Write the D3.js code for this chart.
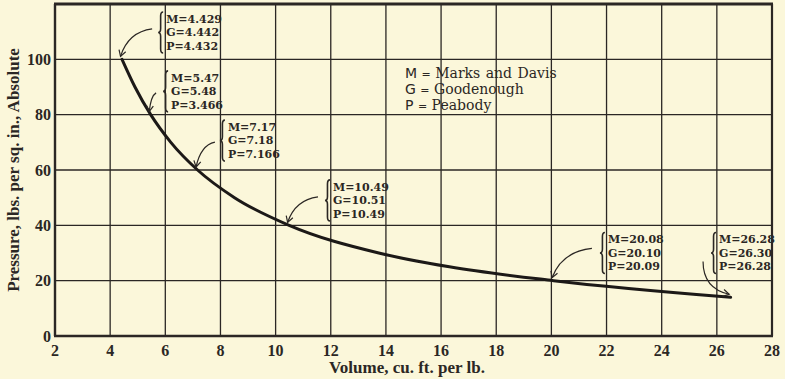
<!DOCTYPE html>
<html>
<head>
<meta charset="utf-8">
<script src="https://cdn.jsdelivr.net/npm/d3@7/dist/d3.min.js"></script>
<style>
  html, body { margin: 0; padding: 0; background: #fbf7da; }
  svg { display: block; }
  .tick-label { font: bold 16px "Liberation Serif", serif; fill: #2b2724; }
  .axis-title { font: bold 17px "Liberation Serif", serif; fill: #2b2724; }
  .note { font: bold 11px "DejaVu Serif", serif; fill: #2b2724; }
  .legend { font: 14px "DejaVu Serif", serif; fill: #2b2724; word-spacing: 1px; }
</style>
</head>
<body>
<div id="chart"></div>
<script>
// saturated steam, specific volume against absolute pressure
const volume = [4.43, 4.90, 5.47, 6.20, 7.17, 8.51, 10.49, 13.74, 16.30, 20.08, 26.5];
const pressure = [100, 90, 80, 70, 60, 50, 40, 30, 25, 20, 14];

const xTicks = [2, 4, 6, 8, 10, 12, 14, 16, 18, 20, 22, 24, 26, 28];
const yTicks = [0, 20, 40, 60, 80, 100];

// table values written beside the curve
const markedPoint = [0, 2, 4, 6, 9, 10];
const marksDavis = ['4.429', '5.47', '7.17', '10.49', '20.08', '26.28'];
const goodenough = ['4.442', '5.48', '7.18', '10.51', '20.10', '26.30'];
const peabody = ['4.432', '3.466', '7.166', '10.49', '20.09', '26.28'];

const legendKeys = ['M', 'G', 'P'];
const legendNames = ['Marks and Davis', 'Goodenough', 'Peabody'];

// where the little value boxes sit (data units) and how their arrows leave them
const notePos = [
  { x: 6.03, y: 114.6, dx: -14, dy: 10, bend: 'h' },
  { x: 6.21, y: 93.3, dx: -15, dy: 15, bend: 'h' },
  { x: 8.27, y: 75.5, dx: -13, dy: 15, bend: 'h' },
  { x: 12.08, y: 53.9, dx: -15, dy: 10, bend: 'h' },
  { x: 22.05, y: 34.9, dx: -16, dy: 9, bend: 'h' },
  { x: 26.08, y: 34.9, dx: -16, dy: 22, bend: 'v' }
];

const W = 785, H = 379;
const margin = { top: 4, right: 13, bottom: 43, left: 55 };
const ink = '#2b2724';

const svg = d3.select('#chart').append('svg')
  .attr('width', W)
  .attr('height', H);

svg.append('rect').attr('width', W).attr('height', H).attr('fill', '#fbf7da');

const x = d3.scaleLinear().domain([2, 28]).range([margin.left, W - margin.right]);
const y = d3.scaleLinear().domain([0, 120]).range([H - margin.bottom, margin.top]);

// grid
svg.append('g')
  .selectAll('line')
  .data(xTicks.slice(1, -1))
  .join('line')
    .attr('x1', d => x(d)).attr('x2', d => x(d))
    .attr('y1', y(0)).attr('y2', y(120))
    .attr('stroke', ink).attr('stroke-width', 1.3);

svg.append('g')
  .selectAll('line')
  .data(yTicks.slice(1))
  .join('line')
    .attr('x1', x(2)).attr('x2', x(28))
    .attr('y1', d => y(d)).attr('y2', d => y(d))
    .attr('stroke', ink).attr('stroke-width', 1.3);

// frame
svg.append('line').attr('x1', x(2) - 1).attr('x2', x(28) + 1).attr('y1', y(120)).attr('y2', y(120))
  .attr('stroke', ink).attr('stroke-width', 3);
svg.append('line').attr('x1', x(2) - 1).attr('x2', x(28) + 1).attr('y1', y(0)).attr('y2', y(0))
  .attr('stroke', ink).attr('stroke-width', 2.4);
svg.append('line').attr('x1', x(2)).attr('x2', x(2)).attr('y1', y(120)).attr('y2', y(0))
  .attr('stroke', ink).attr('stroke-width', 2.4);
svg.append('line').attr('x1', x(28)).attr('x2', x(28)).attr('y1', y(120)).attr('y2', y(0))
  .attr('stroke', ink).attr('stroke-width', 2.2);

// tick labels
svg.append('g')
  .selectAll('text')
  .data(xTicks)
  .join('text')
    .attr('class', 'tick-label')
    .attr('x', d => x(d))
    .attr('y', y(0) + 20)
    .attr('text-anchor', 'middle')
    .text(d => d);

svg.append('g')
  .selectAll('text')
  .data(yTicks)
  .join('text')
    .attr('class', 'tick-label')
    .attr('x', x(2) - 4)
    .attr('y', d => y(d))
    .attr('dy', '0.35em')
    .attr('text-anchor', 'end')
    .text(d => d);

// axis titles
svg.append('text')
  .attr('class', 'axis-title')
  .attr('x', 407)
  .attr('y', H - 6)
  .attr('text-anchor', 'middle')
  .text('Volume, cu. ft. per lb.');

svg.append('text')
  .attr('class', 'axis-title')
  .attr('transform', `translate(19,${(y(0) + y(120)) / 2}) rotate(-90)`)
  .attr('text-anchor', 'middle')
  .text('Pressure, lbs. per sq. in., Absolute');

// curve
const pts = volume.map((v, i) => [v, pressure[i]]);
svg.append('path')
  .datum(pts)
  .attr('fill', 'none')
  .attr('stroke', '#1c1917')
  .attr('stroke-width', 3)
  .attr('stroke-linecap', 'round')
  .attr('d', d3.line().x(d => x(d[0])).y(d => y(d[1])).curve(d3.curveMonotoneX));

// arrowhead
svg.append('defs').append('marker')
  .attr('id', 'head')
  .attr('markerUnits', 'userSpaceOnUse')
  .attr('viewBox', '-8 -5 10 10')
  .attr('refX', 0).attr('refY', 0)
  .attr('markerWidth', 10).attr('markerHeight', 10)
  .attr('orient', 'auto')
  .append('path')
    .attr('d', 'M-6,-3.5 L0,0 L-6,3.5')
    .attr('fill', 'none')
    .attr('stroke', ink)
    .attr('stroke-width', 1.2);

function bracePath(bx, y0, y1) {
  const w = 5, h = w / 2, m = (y0 + y1) / 2;
  return `M${bx + w},${y0} Q${bx + h},${y0} ${bx + h},${y0 + 4} L${bx + h},${m - 4} Q${bx + h},${m} ${bx},${m}` +
         ` Q${bx + h},${m} ${bx + h},${m + 4} L${bx + h},${y1 - 4} Q${bx + h},${y1} ${bx + w},${y1}`;
}

const lineGap = 13.5;
const notes = svg.append('g');
notePos.forEach((p, i) => {
  const lx = x(p.x), ly = y(p.y);
  const k = markedPoint[i];
  const rows = [`M=${marksDavis[i]}`, `G=${goodenough[i]}`, `P=${peabody[i]}`];

  notes.append('path')
    .attr('d', bracePath(lx - 8, ly - 7, ly + 2 * lineGap + 7))
    .attr('fill', 'none')
    .attr('stroke', ink)
    .attr('stroke-width', 1.6);

  notes.selectAll(null)
    .data(rows)
    .join('text')
      .attr('class', 'note')
      .attr('x', lx)
      .attr('y', (d, j) => ly + j * lineGap)
      .attr('dy', '0.35em')
      .text(d => d);

  const sx = lx + p.dx, sy = ly + p.dy;
  const tx = x(volume[k]) - 1.5, ty = y(pressure[k]) - 3;
  const cx = p.bend === 'h' ? tx + (sx - tx) * 0.25 : sx;
  const cy = p.bend === 'h' ? sy + 3 : ty - 6;
  notes.append('path')
    .attr('d', `M${sx},${sy} Q${cx},${cy} ${tx},${ty}`)
    .attr('fill', 'none')
    .attr('stroke', ink)
    .attr('stroke-width', 1.2)
    .attr('marker-end', 'url(#head)');
});

// legend
const legend = svg.append('g');
legendKeys.forEach((key, i) => {
  const t = legend.append('text')
    .attr('class', 'legend')
    .attr('x', x(14.69))
    .attr('y', 73 + i * 16)
    .attr('dy', '0.35em');
  t.append('tspan').attr('font-family', '"DejaVu Sans", sans-serif').text(key);
  t.append('tspan').attr('font-size', 11).text(' = ');
  t.append('tspan').text(legendNames[i]);
});
</script>
</body>
</html>
